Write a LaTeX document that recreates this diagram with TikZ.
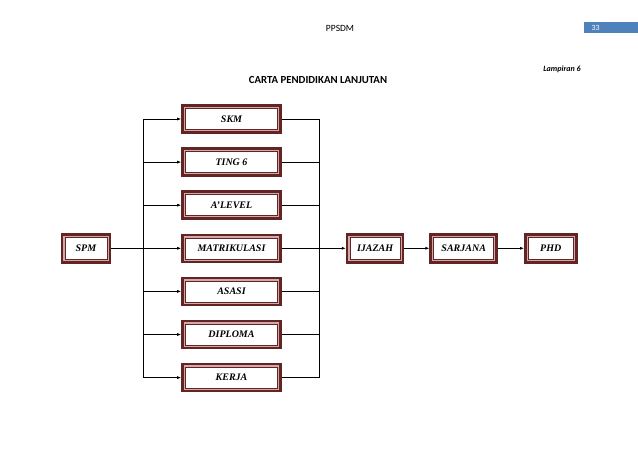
\documentclass[tikz,border=0pt]{standalone}
\usepackage{fontspec}
\setmainfont{Liberation Serif}
\newfontfamily\calibri{Carlito}
\usepackage{tikz}
\usetikzlibrary{positioning,arrows.meta,calc}
\definecolor{bred}{HTML}{632523}
\definecolor{bpink}{HTML}{D4A8A8}
\definecolor{hblue}{HTML}{4F81BD}

\begin{document}
\begin{tikzpicture}[x=1pt, y=-1pt,
  node_/.style={rectangle, draw=bred, line width=2.6pt, fill=white, inner sep=0pt,
    minimum height=27pt, font=\fontsize{10}{12}\selectfont\bfseries\itshape,
    path picture={
      \draw[bpink, line width=1.4pt] ([shift={(2pt,2pt)}]path picture bounding box.south west)
        rectangle ([shift={(-2pt,-2pt)}]path picture bounding box.north east);
      \draw[bred, line width=0.6pt] ([shift={(3pt,3pt)}]path picture bounding box.south west)
        rectangle ([shift={(-3pt,-3pt)}]path picture bounding box.north east);
    }},
  mid/.style={node_, minimum width=98pt},
  arr/.style={-{Latex[length=4pt,width=3pt]}, line width=0.7pt},
  lin/.style={line width=0.7pt}
]
\useasboundingbox (0,0) rectangle (638,452);

% header
\node[font=\calibri\fontsize{9.5}{11}\selectfont] (hdr) at (340,28) {PPSDM};
\fill[hblue] (584,22) rectangle (638,33);
\node[font=\calibri\fontsize{8}{10}\selectfont, text=white, anchor=west] (pg) at (588,27.5) {33};
\node[font=\calibri\fontsize{8}{10}\selectfont\bfseries\itshape] (lamp) at (562,69) {Lampiran 6};
\node[font=\calibri\fontsize{10.8}{13}\selectfont\bfseries] (title) at (318,80) {CARTA PENDIDIKAN LANJUTAN};

% middle column
\node[mid] (skm) at (231.5,119) {SKM};
\node[mid, below=13.5pt of skm] (ting) {TING 6};
\node[mid, below=13.5pt of ting] (alevel) {A'LEVEL};
\node[mid, below=13.5pt of alevel] (matrik) {MATRIKULASI};
\node[mid, below=13.5pt of matrik] (asasi) {ASASI};
\node[mid, below=13.5pt of asasi] (diploma) {DIPLOMA};
\node[mid, below=13.5pt of diploma] (kerja) {KERJA};

% left and right of it
\node[node_, minimum width=48pt, minimum height=28pt, left=70pt of matrik] (spm) {SPM};
\node[node_, minimum width=56pt, minimum height=28pt, right=64pt of matrik] (ijazah) {IJAZAH};
\node[node_, minimum width=66pt, minimum height=28pt, right=25pt of ijazah] (sarjana) {SARJANA};
\node[node_, minimum width=51pt, minimum height=28pt, right=26pt of sarjana] (phd) {PHD};

\coordinate (lsplit) at (143,245);
\coordinate (rsplit) at (319,245);

% branching in
\draw[lin] (spm) -- (spm -| lsplit);
\draw[lin] (skm -| lsplit) -- (kerja -| lsplit);
\foreach \n in {skm,ting,alevel,matrik,asasi,diploma,kerja}
  \draw[arr] (\n -| lsplit) -- (\n);

% joining out
\foreach \n in {skm,ting,alevel,matrik,asasi,diploma,kerja}
  \draw[lin] (\n) -- (\n -| rsplit);
\draw[lin] (skm -| rsplit) -- (kerja -| rsplit);
\draw[arr] (matrik -| rsplit) -- (ijazah);
\draw[arr] (ijazah) -- (sarjana);
\draw[arr] (sarjana) -- (phd);
\end{tikzpicture}
\end{document}
